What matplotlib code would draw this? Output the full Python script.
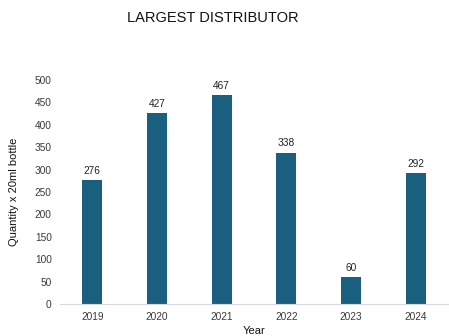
import matplotlib
matplotlib.use("Agg")
import matplotlib.pyplot as plt

years = ["2019", "2020", "2021", "2022", "2023", "2024"]
quantities = [276, 427, 467, 338, 60, 292]
yticks = [0, 50, 100, 150, 200, 250, 300, 350, 400, 450, 500]

plt.rcParams['font.family'] = ['Liberation Sans', 'DejaVu Sans']

W, H = 449, 336
fig = plt.figure(figsize=(W / 100, H / 100), dpi=100)
ax = fig.add_axes([60 / W, 1 - 304 / H, 388 / W, 224 / H])

bar_color = "#1a5f80"
x = range(len(years))
bars = ax.bar(x, quantities, width=0.31, color=bar_color)
for xi, v in zip(x, quantities):
    ax.annotate(str(v), (xi, v), xytext=(0, 3), textcoords="offset points",
                ha="center", va="bottom", fontsize=7.3, color="#222222")

ax.set_xlim(-0.5, 5.5)
ax.set_ylim(0, 500)
ax.set_xticks(list(x))
ax.set_xticklabels(years)
ax.set_yticks(yticks)
ax.tick_params(axis="both", length=0, labelsize=7.3, colors="#3a3a3a", pad=6)
for s in ["top", "right", "left"]:
    ax.spines[s].set_visible(False)
ax.spines["bottom"].set_color("#d9d9d9")
ax.spines["bottom"].set_linewidth(0.8)

ax.set_xlabel("Year", fontsize=8, color="#111111", labelpad=3)
ax.set_ylabel("Quantity x 20ml bottle", fontsize=8, color="#111111", labelpad=11)

fig.text(213 / W, 1 - 18 / H, "LARGEST DISTRIBUTOR", ha="center", va="center",
         fontsize=10.5, color="#111111")

fig.savefig("out.png", dpi=100)
